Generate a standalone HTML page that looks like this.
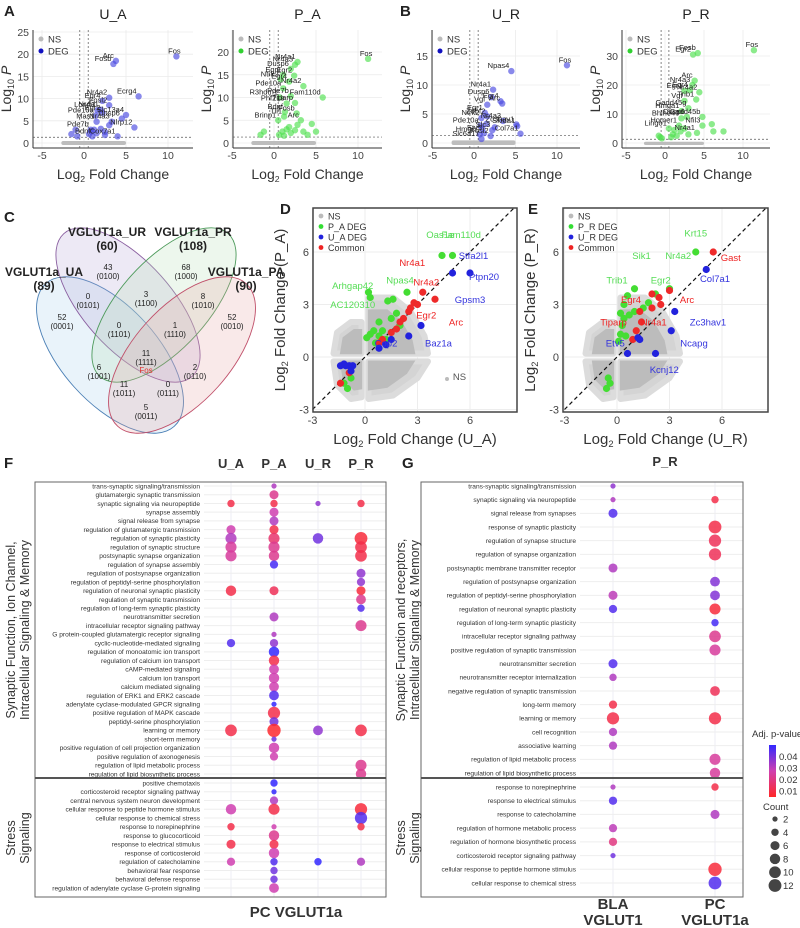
<!DOCTYPE html>
<html><head><meta charset="utf-8"><style>
html,body{margin:0;padding:0;background:#fff}
svg{display:block;font-family:"Liberation Sans",Arial,sans-serif}
</style></head><body>
<svg id="fig" width="800" height="928" viewBox="0 0 800 928" xmlns="http://www.w3.org/2000/svg"></svg>
<script>
// ---------- DATA ----------
const uaPoints=[[11,19.5,"Fos"],[3.8,18.5,"Arc"],[3.5,17.8,"Fosb"],[6.5,10.5,"Ecrg4"],[3,10.2,"Nr4a2"],[2.2,9.5,"Egr4"],[3,8.5,"Fosl2"],[2,7.5,"Nr4a1"],[1.6,7.4,"Lonrf3"],[2.2,6.8,"Egr2"],[5,6.3,"Slc13a4"],[1.4,6.2,"Pde10a"],[4.5,5.5,"Dusp6"],[3.3,4.8,"Nr4a3"],[1.5,4.8,"Mas1"],[0.8,3,"Pde7b"],[1,1.5,"Bdnf"],[6,3.5,"Nlrp12"],[4,1.5,"Cox7a1"],[1.2,3,""],[2,3.2,""],[2.5,2.5,""],[0.6,2,""],[-1,3,""],[-1.5,2,""],[-0.8,1.5,""],[3,4,""],[2.5,1.8,""],[1.5,2.2,""],[0.9,2.6,""]];
const paPoints=[[11.2,18.5,"Fos"],[2.8,17.8,"Nr4a1"],[2.5,17.2,"Nr4a3"],[2,16.3,"Dusp6"],[1.1,15,"Egr1"],[2.4,14.8,"Egr2"],[0.8,14,"Ntrk2"],[1.8,13.5,"Egr4"],[1.1,12,"Pde10a"],[3.5,12.5,"Nr4a2"],[0.7,10,"R3hdm1"],[2,10.3,"Pde7b"],[5.8,10,"Fam110d"],[1.5,8.7,"Phf21b"],[2.5,8.8,"Tiparp"],[2.7,6.5,"Fosb"],[1.3,6.8,"Bdnf"],[0.5,5,"Brinp1"],[1.2,5.8,"Tll1"],[3.2,5,"Arc"],[1,2.5,""],[1.5,3,""],[2,2.2,""],[1.8,3.5,""],[0.6,1.8,""],[-1.2,2.5,""],[-1.6,1.8,""],[2.5,2.8,""],[3.5,2.5,""],[4.5,4.2,""],[5,2.5,""],[4,1.8,""],[1.2,1.6,""],[2.8,4,""]];
const urPoints=[[11.2,13.4,"Fos"],[4.5,12.4,"Npas4"],[2.3,9.2,"Nr4a1"],[2.1,7.9,"Dusp6"],[3.2,7.2,"Egr4"],[3.4,6.8,"Arc"],[1.6,6.6,"Vgf"],[1.3,5.2,"Egr1"],[5.1,3.2,"Zc3hav1"],[1.6,4.6,"Zdbf2"],[0.9,4.3,"Ntrk2"],[3.5,3.8,"Nr4a3"],[5.2,2.9,"Skida1"],[0.8,3,"Pde10a"],[2.2,2.2,"Slc3"],[5.6,1.6,"Col7a1"],[1.2,1.7,"Etv5"],[0.7,1.5,"Hmgcr"],[2,1.2,"Fosl2"],[0.9,0.7,"Slc6a17"],[1.5,3.3,""],[2.5,2.7,""],[1,2.5,""]];
const prPoints=[[11.4,32,"Fos"],[4.2,31,"Fosb"],[3.6,30.5,"Egr2"],[3.8,21.5,"Arc"],[3.5,20,"Nr4a3"],[2.5,18,"Egr1"],[3.2,18.2,"Egr4"],[4.4,17.5,"Nr4a2"],[4,15,"Trib1"],[2.5,14.5,"Vgf"],[3,12,"Gadd45g"],[2.1,11,"Hmga1"],[2.8,9,"Dusp6"],[4.8,9,"Gadd45b"],[2.1,8.5,"Bhlhe40"],[1.8,6,"Homer1"],[4.8,6,"Nfil3"],[0.5,5,"Lingo1"],[4.1,3.5,"Nr4a1"],[6.2,4,""],[7.5,4,""],[6,6.5,""],[1,3,""],[1.5,2.5,""],[2,4,""],[2.5,5,""],[-0.6,2,""],[-0.8,2.5,""],[-0.4,1.6,""],[3,3,""],[0.8,2,""],[1.2,4.5,""]];

const dGreen=[[4.4,5.8],[5,5.8],[0.2,3.7],[0.3,3.4],[2.4,3.7],[1.3,3.2],[1.6,3.3],[0.8,2],[0.1,1.1],[0.3,1.3],[0.5,1.5],[0.8,1.2],[1,1.5],[1.5,2.2],[1.8,2.5],[0.6,0.8],[2,1.8],[-0.8,-1.2],[-1,-1.8],[-1.2,-1.5],[1.2,1.0]];
const dRed=[[3.3,3.7],[4,3.3],[2.8,3.1],[2.5,2.6],[2.2,2.2],[1.8,1.6],[1.5,1.4],[1,1],[0.8,0.8],[-1.4,-1.5],[-0.9,-0.9],[3,3],[2.6,2.8],[2,2]];
const dBlue=[[5,4.8],[6,4.8],[3.2,1.8],[2.5,1.2],[1.2,0.7],[0.8,0.5],[1.5,1],[-1.4,-0.5],[-1.1,-0.5],[-0.9,-0.5],[-0.7,-0.5],[-1.2,-0.4],[-0.8,-0.8]];
const eGreen=[[4.5,6],[1,3.9],[0.4,3],[3,3.9],[2.2,3.6],[0.6,3.5],[0.2,2.5],[0.3,1.8],[0.2,1.3],[0.5,1.2],[0.1,0.9],[1,2.6],[1.8,3.1],[-0.5,-1.2],[-0.6,-1.8],[-0.4,-1.5],[0.4,2.2],[0.7,2.4],[1.5,2.8]];
const eRed=[[5.5,6],[3,3.8],[2,3.6],[2.4,3.4],[1.3,2.6],[2,2.8],[1.4,2],[1.1,1.5],[0.9,1],[2.5,3.0]];
const eBlue=[[5.1,5],[3.3,2.6],[3.1,1.5],[2.2,0.2],[0.6,0.2],[1.3,1],[1.2,1.1]];
const dLabels=[["Oas1e",4.3,6.8,"#55dd55"],["Fam110d",5.5,6.8,"#55dd55"],["Stfa2l1",6.2,5.6,"#3333dd"],["Ptpn20",6.8,4.4,"#3333dd"],["Nr4a1",2.7,5.2,"#ee2222"],["Nr4a2",3.5,4.1,"#ee2222"],["Npas4",2,4.2,"#55dd55"],["Arhgap42",-0.7,3.9,"#55dd55"],["Gpsm3",6,3.1,"#3333dd"],["AC120310",-0.7,2.8,"#55dd55"],["Egr2",3.5,2.2,"#ee2222"],["Arc",5.2,1.8,"#ee2222"],["Baz1a",4.2,0.6,"#3333dd"],["Cop2",1.2,0.6,"#3333dd"],["NS",5.4,-1.3,"#555555"]];
const eLabels=[["Krt15",4.5,6.9,"#55dd55"],["Gast",6.5,5.5,"#ee2222"],["Sik1",1.4,5.6,"#55dd55"],["Nr4a2",3.5,5.6,"#55dd55"],["Col7a1",5.6,4.3,"#3333dd"],["Trib1",0,4.2,"#55dd55"],["Egr2",2.5,4.2,"#55dd55"],["Egr4",0.8,3.1,"#ee2222"],["Arc",4,3.1,"#ee2222"],["Tiparp",-0.2,1.8,"#ee2222"],["Nr4a1",2.1,1.8,"#ee2222"],["Zc3hav1",5.2,1.8,"#3333dd"],["Ncapg",4.4,0.6,"#3333dd"],["Etv5",-0.1,0.6,"#3333dd"],["Kcnj12",2.7,-0.9,"#3333dd"]];

const fTopRows=[
["trans-synaptic signaling/transmission",0,[2,.03],0,0],
["glutamatergic synaptic transmission",0,[6,.02],0,0],
["synaptic signaling via neuropeptide",[4,.01],[4,.01],[2,.035],[4,.01]],
["synapse assembly",0,[6,.025],0,0],
["signal release from synapse",0,[6,.03],0,0],
["regulation of glutamatergic transmission",[6,.025],[6,.01],0,0],
["regulation of synaptic plasticity",[9,.03],[9,.015],[8,.04],[12,.008]],
["regulation of synaptic structure",[9,.022],[9,.02],0,[10,.01]],
["postsynaptic synapse organization",[9,.022],[8,.02],0,[10,.01]],
["regulation of synapse assembly",0,[5,.047],0,0],
["regulation of postsynapse organization",0,0,0,[6,.035]],
["regulation of peptidyl-serine phosphorylation",0,0,0,[5,.035]],
["regulation of neuronal synaptic plasticity",[8,.01],[6,.012],0,[6,.008]],
["regulation of synaptic transmission",0,0,0,[7,.02]],
["regulation of long-term synaptic plasticity",0,0,0,[4,.045]],
["neurotransmitter secretion",0,[6,.03],0,0],
["intracellular receptor signaling pathway",0,0,0,[9,.02]],
["G protein-coupled glutamatergic receptor signaling",0,[2,.03],0,0],
["cyclic-nucleotide-mediated signaling",[5,.045],[5,.035],0,0],
["regulation of monoatomic ion transport",0,[8,.05],0,0],
["regulation of calcium ion transport",0,[8,.01],0,0],
["cAMP-mediated signaling",0,[7,.025],0,0],
["calcium ion transport",0,[8,.025],0,0],
["calcium mediated signaling",0,[7,.025],0,0],
["regulation of ERK1 and ERK2 cascade",0,[7,.045],0,0],
["adenylate cyclase-modulated GPCR signaling",0,[2,.05],0,0],
["positive regulation of MAPK cascade",0,[11,.01],0,0],
["peptidyl-serine phosphorylation",0,[6,.04],0,0],
["learning or memory",[10,.01],[13,.006],[7,.035],[10,.01]],
["short-term memory",0,[2,.04],0,0],
["positive regulation of cell projection organization",0,[8,.025],0,0],
["positive regulation of axonogenesis",0,[5,.025],0,0],
["regulation of lipid metabolic process",0,0,0,[9,.02]],
["regulation of lipid biosynthetic process",0,0,0,[8,.02]]];
const fBottomRows=[
["positive chemotaxis",0,[4,.05],0,0],
["corticosteroid receptor signaling pathway",0,[2,.05],0,0],
["central nervous system neuron development",0,[5,.03],0,0],
["cellular response to peptide hormone stimulus",[8,.025],[9,.01],0,[11,.008]],
["cellular response to chemical stress",0,0,0,[11,.045]],
["response to norepinephrine",[4,.01],[2,.025],0,[4,.01]],
["response to glucocorticoid",0,[8,.02],0,0],
["response to electrical stimulus",[6,.01],[6,.01],0,0],
["response of corticosteroid",0,[8,.025],0,0],
["regulation of catecholamine",[5,.025],[4,.045],[4,.05],[5,.03]],
["behavioral fear response",0,[4,.04],0,0],
["behavioral defense response",0,[4,.04],0,0],
["regulation of adenylate cyclase G-protein signaling",0,[7,.025],0,0]];
const fColumns=["U_A","P_A","U_R","P_R"];

const gTopRows=[
["trans-synaptic signaling/transmission",[2,.035],0],
["synaptic signaling via neuropeptide",[2,.03],[4,.01]],
["signal release from synapses",[6,.045],0],
["response of synaptic plasticity",0,[12,.01]],
["regulation of synapse structure",0,[11,.012]],
["regulation of synapse organization",0,[11,.012]],
["postsynaptic membrane transmitter receptor",[6,.03],0],
["regulation of postsynapse organization",0,[7,.037]],
["regulation of peptidyl-serine phosphorylation",[6,.028],[7,.037]],
["regulation of neuronal synaptic plasticity",[5,.045],[9,.008]],
["regulation of long-term synaptic plasticity",0,[4,.047]],
["intracellular receptor signaling pathway",0,[10,.02]],
["positive regulation of synaptic transmission",0,[9,.022]],
["neurotransmitter secretion",[6,.045],0],
["neurotransmitter receptor internalization",[4,.03],0],
["negative regulation of synaptic transmission",0,[7,.012]],
["long-term memory",[5,.01],0],
["learning or memory",[11,.01],[11,.01]],
["cell recognition",[5,.03],0],
["associative learning",[5,.03],0],
["regulation of lipid metabolic process",0,[9,.022]],
["regulation of lipid biosynthetic process",0,[8,.022]]];
const gBottomRows=[
["response to norepinephrine",[2,.03],[4,.01]],
["response to electrical stimulus",[5,.045],0],
["response to catecholamine",0,[6,.03]],
["regulation of hormone metabolic process",[5,.028],0],
["regulation of hormone biosynthetic process",[5,.018],0],
["corticosteroid receptor signaling pathway",[2,.04],0],
["cellular response to peptide hormone stimulus",0,[13,.008]],
["cellular response to chemical stress",0,[12,.045]]];
const pTicks=[0.04,0.03,0.02,0.01];
const countTicks=[2,4,6,8,10,12];

const vennRegions=[["43","0100",108,270],["68","1000",186,270],["3","1100",146,297],["0","0101",88,299],["8","1010",203,299],["52","0001",62,320],["52","0010",232,320],["0","1101",119,328],["1","1110",175,328],["11","1111",146,356],["6","1001",99,370],["2","0110",195,370],["11","1011",124,387],["0","0111",168,387],["5","0011",146,410]];

// ---------- HELPERS ----------
const NS="http://www.w3.org/2000/svg";
const svg=document.getElementById('fig');
function mk(tag,attrs,name,parent){
  const el=document.createElementNS(NS,tag);
  for(const k in attrs) el.setAttribute(k,attrs[k]);
  
  
  (parent||svg).appendChild(el);
  return el;
}
function txt(x,y,s,size,name,extra){
  const a=Object.assign({x:x,y:y,'font-size':size,fill:'#222'},extra||{});
  const t=mk('text',a,name);
  t.textContent=s;
  return t;
}
function log2Label(x,y,size,suffix,name,rot){
  const a={x:x,y:y,'font-size':size,fill:'#333','text-anchor':'middle'};
  if(rot) a.transform='rotate(-90 '+x+' '+y+')';
  const t=mk('text',a,name);
  t.appendChild(document.createTextNode('Log'));
  const s=document.createElementNS(NS,'tspan');
  s.setAttribute('font-size',size*0.62);s.setAttribute('dy',size*0.2);s.textContent='2';
  t.appendChild(s);
  const r=document.createElementNS(NS,'tspan');
  r.setAttribute('dy',-size*0.2);r.textContent=' '+suffix;
  t.appendChild(r);
}
function pColor(p){
  const stops=[[0.005,[255,40,40]],[0.025,[208,64,176]],[0.05,[50,40,255]]];
  p=Math.max(0.005,Math.min(0.05,p));
  for(let i=0;i<2;i++){const a=stops[i],b=stops[i+1];
    if(p<=b[0]){const t=(p-a[0])/(b[0]-a[0]);
      return 'rgb('+a[1].map((v,j)=>Math.round(v+(b[1][j]-v)*t)).join(',')+')';}}
}
function rCount(c){return 1.85*Math.sqrt(c);}

[["A",4,16],["B",400,16],["C",4,222],["D",280,214],["E",528,214],["F",4,468],["G",402,468]].forEach(l=>{
  txt(l[1],l[2],l[0],15,'panel-label-'+l[0].toLowerCase(),{'font-weight':'bold'});
});

// ---------- VOLCANO ----------
const volcanoes=[
 {name:'u-a',title:'U_A',pts:uaPoints,x0:84,xs:8.4,ys:4.44,box:[33,30,193,148],yt:[0,5,10,15,20,25],col:'#4a4ae0',leg:'#1010c0'},
 {name:'p-a',title:'P_A',pts:paPoints,x0:274,xs:8.4,ys:4.55,box:[233,30,382,148],yt:[0,5,10,15,20],col:'#4ee04e',leg:'#30d030'},
 {name:'u-r',title:'U_R',pts:urPoints,x0:474,xs:8.3,ys:5.8,box:[432,30,580,148],yt:[0,5,10,15],col:'#4a4ae0',leg:'#1010c0'},
 {name:'p-r',title:'P_R',pts:prPoints,x0:665,xs:7.8,ys:2.9,box:[622,30,770,148],yt:[0,10,20,30],col:'#4ee04e',leg:'#30d030'}];
volcanoes.forEach(v=>{
  const [L,T,R,B]=v.box, y0=143;
  const X=d=>v.x0+d*v.xs, Y=d=>y0-d*v.ys;
  const g=mk('g',{},'volcano-'+v.name);
  [-5,0,5,10].forEach(t=>mk('line',{x1:X(t),x2:X(t),y1:T,y2:B,stroke:'#ebebeb','stroke-width':0.8},'grid-x',g));
  v.yt.forEach(t=>mk('line',{x1:L,x2:R,y1:Y(t),y2:Y(t),stroke:'#ebebeb','stroke-width':0.8},'grid-y',g));
  mk('line',{x1:L,x2:L,y1:T,y2:B,stroke:'#333','stroke-width':1},'y-axis',g);
  mk('line',{x1:L,x2:R,y1:B,y2:B,stroke:'#333','stroke-width':1},'x-axis',g);
  [-5,0,5,10].forEach(t=>{txt(X(t),B+11,String(t),10.5,'x-tick-label',{'text-anchor':'middle',fill:'#444'});});
  v.yt.forEach(t=>{txt(L-4,Y(t)+4,String(t),10.5,'y-tick-label',{'text-anchor':'end',fill:'#444'});});
  [-0.5,0.5].forEach(t=>mk('line',{x1:X(t),x2:X(t),y1:T,y2:B,stroke:'#555','stroke-width':0.7,'stroke-dasharray':'2,2'},'fc-threshold',g));
  mk('line',{x1:L,x2:R,y1:Y(1.3),y2:Y(1.3),stroke:'#555','stroke-width':0.7,'stroke-dasharray':'2,2'},'p-threshold',g);
  mk('rect',{x:X(-2.7),y:Y(0.45),width:X(5)-X(-2.7),height:Y(0)-Y(0.45)+2,fill:'#bdbdbd',rx:2},'ns-points',g);
  v.pts.forEach(p=>{
    mk('circle',{cx:X(p[0]),cy:Y(p[1]),r:3.2,fill:v.col,'fill-opacity':0.65},'deg-point',g);
    if(p[2]){txt(X(p[0])-2,Y(p[1])-3,p[2],7.5,'gene-label',{'text-anchor':p[0]>8?'middle':'end',fill:'#222'});}
  });
  mk('circle',{cx:L+8,cy:39,r:2.5,fill:'#bbb'},'legend-ns-dot',g);
  txt(L+15,42.5,'NS',9.5,'legend-ns',{fill:'#333'});
  mk('circle',{cx:L+8,cy:51,r:2.5,fill:v.leg},'legend-deg-dot',g);
  txt(L+15,54.5,'DEG',9.5,'legend-deg',{fill:'#333'});
  txt((L+R)/2,19,v.title,14,'volcano-title',{'text-anchor':'middle',fill:'#222'});
  log2Label((L+R)/2,179,14,'Fold Change','x-axis-title');
  const yx=L-22, yy=(T+B)/2;
  const t=mk('text',{x:yx,y:yy,'font-size':14,fill:'#333','text-anchor':'middle',transform:'rotate(-90 '+yx+' '+yy+')'},'y-axis-title',g);
  t.appendChild(document.createTextNode('Log'));
  const s1=document.createElementNS(NS,'tspan');s1.setAttribute('font-size',9);s1.setAttribute('dy',3);s1.textContent='10';t.appendChild(s1);
  const s2=document.createElementNS(NS,'tspan');s2.setAttribute('dy',-3);s2.setAttribute('font-style','italic');s2.textContent=' P';t.appendChild(s2);
});

// ---------- VENN ----------
const vg=mk('g',{},'venn-diagram');
mk('ellipse',{cx:110,cy:355,rx:96,ry:48,transform:'rotate(48 110 355)',fill:'#9cc8e8','fill-opacity':0.22,stroke:'#4a7fb5','stroke-width':0.9},'venn-ua',vg);
mk('ellipse',{cx:128,cy:305,rx:96,ry:44,transform:'rotate(48 128 305)',fill:'#b9a8d8','fill-opacity':0.25,stroke:'#8a5fa0','stroke-width':0.9},'venn-ur',vg);
mk('ellipse',{cx:164,cy:305,rx:96,ry:44,transform:'rotate(-48 164 305)',fill:'#b8e0b8','fill-opacity':0.25,stroke:'#4c9a5a','stroke-width':0.9},'venn-pr',vg);
mk('ellipse',{cx:182,cy:355,rx:96,ry:48,transform:'rotate(-48 182 355)',fill:'#e8a8a8','fill-opacity':0.25,stroke:'#c0506a','stroke-width':0.9},'venn-pa',vg);
[["VGLUT1a_UR","(60)",107,236],["VGLUT1a_PR","(108)",193,236],["VGLUT1a_UA","(89)",44,276],["VGLUT1a_PA","(90)",246,276]].forEach(s=>{
  txt(s[2],s[3],s[0],12,'venn-set-name',{'text-anchor':'middle','font-weight':'bold',fill:'#222'});
  txt(s[2],s[3]+14,s[1],12,'venn-set-size',{'text-anchor':'middle','font-weight':'bold',fill:'#222'});
});
vennRegions.forEach(r=>{
  txt(r[2],r[3],r[0],8,'venn-count',{'text-anchor':'middle',fill:'#222'});
  txt(r[2],r[3]+9,'('+r[1]+')',8,'venn-code',{'text-anchor':'middle',fill:'#222'});
});
txt(146,373,'Fos',8,'venn-fos',{'text-anchor':'middle',fill:'#e03030'});

// ---------- SCATTER D/E ----------
function scatter(name,L,R,T,B,x0,y0,s,gr,rd,bl,labels,xlab,ylab,gl,bll){
  const X=v=>x0+v*s, Y=v=>y0-v*s;
  const g=mk('g',{},'scatter-'+name);
  mk('rect',{x:L,y:T,width:R-L,height:B-T,fill:'#fff'},'plot-bg',g);
  [-3,0,3,6].forEach(t=>{mk('line',{x1:X(t),x2:X(t),y1:T,y2:B,stroke:'#ededed'},'grid-x',g);mk('line',{x1:L,x2:R,y1:Y(t),y2:Y(t),stroke:'#ededed'},'grid-y',g);});
  const clouds=[
    [[0.2,0.2],[3.6,0.2],[3.4,1.2],[2.6,2.6],[1.6,3.4],[0.2,3.4]],
    [[-0.2,0.2],[-1.8,0.2],[-1.6,1.4],[-0.8,2.0],[-0.2,2.0]],
    [[-0.2,-0.25],[-1.8,-0.25],[-1.6,-1.6],[-0.8,-2.4],[-0.2,-2.3]],
    [[0.2,-0.25],[3.6,-0.25],[3.0,-1.2],[1.6,-2.2],[0.2,-2.4]]];
  clouds.forEach(c=>{
    mk('polygon',{points:c.map(p=>X(p[0])+','+Y(p[1])).join(' '),fill:'#d4d4d4',stroke:'#dcdcdc','stroke-width':6,'stroke-linejoin':'round'},'ns-cloud-halo',g);
    mk('polygon',{points:c.map(p=>X(p[0]*0.8)+','+Y(p[1]*0.8)).join(' '),fill:'#bcbcbc'},'ns-cloud',g);
  });
  mk('line',{x1:X(-3),y1:Y(-3),x2:X(8.5),y2:Y(8.5),stroke:'#111','stroke-width':1.2,'stroke-dasharray':'4,3'},'identity-line',g);
  gr.forEach(p=>mk('circle',{cx:X(p[0]),cy:Y(p[1]),r:3.6,fill:'#44dd33'},'green-point',g));
  rd.forEach(p=>mk('circle',{cx:X(p[0]),cy:Y(p[1]),r:3.6,fill:'#ee2a2a'},'red-point',g));
  bl.forEach(p=>mk('circle',{cx:X(p[0]),cy:Y(p[1]),r:3.6,fill:'#2222dd'},'blue-point',g));
  labels.forEach(l=>txt(X(l[1]),Y(l[2]),l[0],9.5,'gene-label',{'text-anchor':'middle',fill:l[3]}));
  mk('rect',{x:L,y:T,width:R-L,height:B-T,fill:'none',stroke:'#444','stroke-width':1.5},'plot-border',g);
  [["NS","#bbb"],[gl,"#33dd33"],[bll,"#2222dd"],["Common","#ee2222"]].forEach((e,i)=>{
    mk('circle',{cx:L+8,cy:T+8+i*10.5,r:2.4,fill:e[1]},'legend-dot',g);
    txt(L+15,T+11.5+i*10.5,e[0],9,'legend-entry',{fill:'#333'});
  });
  [-3,0,3,6].forEach(t=>{txt(X(t),B+12,String(t),11,'x-tick-label',{'text-anchor':'middle',fill:'#444'});txt(L-4,Y(t)+4,String(t),11,'y-tick-label',{'text-anchor':'end',fill:'#444'});});
  log2Label((L+R)/2,B+32,15,xlab,'x-axis-title');
  log2Label(L-28,(T+B)/2,15,ylab,'y-axis-title',true);
}
scatter('d',313,517,208,412,365,357,17.5,dGreen,dRed,dBlue,dLabels,'Fold Change (U_A)','Fold Change (P_A)','P_A DEG','U_A DEG');
mk('circle',{cx:447,cy:379,r:2,fill:'#bbb'},'ns-callout-dot',svg);
scatter('e',563,768,208,412,617,357,17.5,eGreen,eRed,eBlue,eLabels,'Fold Change (U_R)','Fold Change (P_R)','P_R DEG','U_R DEG');

// ---------- GO DOT PLOTS ----------
function goPanel(name,L,R,labelX,colX,top,bottom,fs){
  const g=mk('g',{},'go-panel-'+name);
  colX.forEach(x=>mk('line',{x1:x,x2:x,y1:482,y2:897,stroke:'#ececf4'},'grid-col',g));
  function rows(list,y1,y2){
    const step=(y2-y1)/(list.length-1);
    list.forEach((r,i)=>{
      const y=y1+i*step;
      mk('line',{x1:labelX+4,x2:R,y1:y,y2:y,stroke:'#eeeeee'},'grid-row',g);
      txt(labelX,y+2.3,r[0],fs,'go-term-label',{'text-anchor':'end',fill:'#333'});
      for(let c=1;c<r.length;c++){ if(r[c]) mk('circle',{cx:colX[c-1],cy:y,r:rCount(r[c][0]),fill:pColor(r[c][1]),'fill-opacity':0.85},'go-dot',g); }
    });
  }
  rows(top[0],top[1],top[2]);
  rows(bottom[0],bottom[1],bottom[2]);
  mk('rect',{x:L,y:482,width:R-L,height:415,fill:'none',stroke:'#666','stroke-width':1},'panel-border',g);
  mk('line',{x1:L,x2:R,y1:778,y2:778,stroke:'#555','stroke-width':2},'section-divider',g);
}
goPanel('f',35,386,200,[231,274,318,361],[fTopRows,486,774],[fBottomRows,783,888],6.6);
goPanel('g',421,743,576,[613,715],[gTopRows,486,773],[gBottomRows,787,883],6.6);
fColumns.forEach((c,i)=>txt([231,274,318,361][i],468,c,13,'column-header',{'text-anchor':'middle','font-weight':'bold',fill:'#333'}));
txt(665,466,'P_R',13,'column-header',{'text-anchor':'middle','font-weight':'bold',fill:'#333'});
txt(296,917,'PC VGLUT1a',15,'x-group-title',{'text-anchor':'middle','font-weight':'bold',fill:'#333'});
txt(613,909,'BLA',15,'x-group-title',{'text-anchor':'middle','font-weight':'bold',fill:'#333'});
txt(613,925,'VGLUT1',15,'x-group-title',{'text-anchor':'middle','font-weight':'bold',fill:'#333'});
txt(715,909,'PC',15,'x-group-title',{'text-anchor':'middle','font-weight':'bold',fill:'#333'});
txt(715,925,'VGLUT1a',15,'x-group-title',{'text-anchor':'middle','font-weight':'bold',fill:'#333'});
function rotLabel(x,y,s,name){txt(x,y,s,12.5,name,{'text-anchor':'middle',fill:'#333',transform:'rotate(-90 '+x+' '+y+')'});}
rotLabel(15,630,'Synaptic Function, Ion Channel,','y-group-title');
rotLabel(29,630,'Intracellular Signaling & Memory','y-group-title');
rotLabel(15,838,'Stress','y-group-title');
rotLabel(29,838,'Signaling','y-group-title');
rotLabel(405,630,'Synaptic Function and receptors,','y-group-title');
rotLabel(419,630,'Intracellular Signaling & Memory','y-group-title');
rotLabel(405,838,'Stress','y-group-title');
rotLabel(419,838,'Signaling','y-group-title');

// ---------- LEGEND ----------
const defs=mk('defs',{},'defs');
const lg=mk('linearGradient',{id:'pg',x1:0,y1:0,x2:0,y2:1},'gradient',defs);
[[0,'rgb(50,40,255)'],[0.5,'rgb(208,64,176)'],[1,'rgb(255,40,40)']].forEach(s=>mk('stop',{offset:s[0],'stop-color':s[1]},'stop',lg));
txt(752,737,'Adj. p-value',9.5,'legend-title',{fill:'#333'});
mk('rect',{x:769,y:745,width:7,height:52,fill:'url(#pg)'},'color-bar',svg);
pTicks.forEach(p=>{const y=745+(0.05-p)/0.045*52;txt(779,y+3.5,String(p),9.5,'color-tick',{fill:'#333'});});
txt(763,810,'Count',9.5,'legend-title',{fill:'#333'});
countTicks.forEach((c,i)=>{const y=819+i*13.3;mk('circle',{cx:775,cy:y,r:rCount(c),fill:'#444'},'size-key',svg);txt(783,y+3.5,String(c),9.5,'size-label',{fill:'#333'});});
</script>
</body></html>
